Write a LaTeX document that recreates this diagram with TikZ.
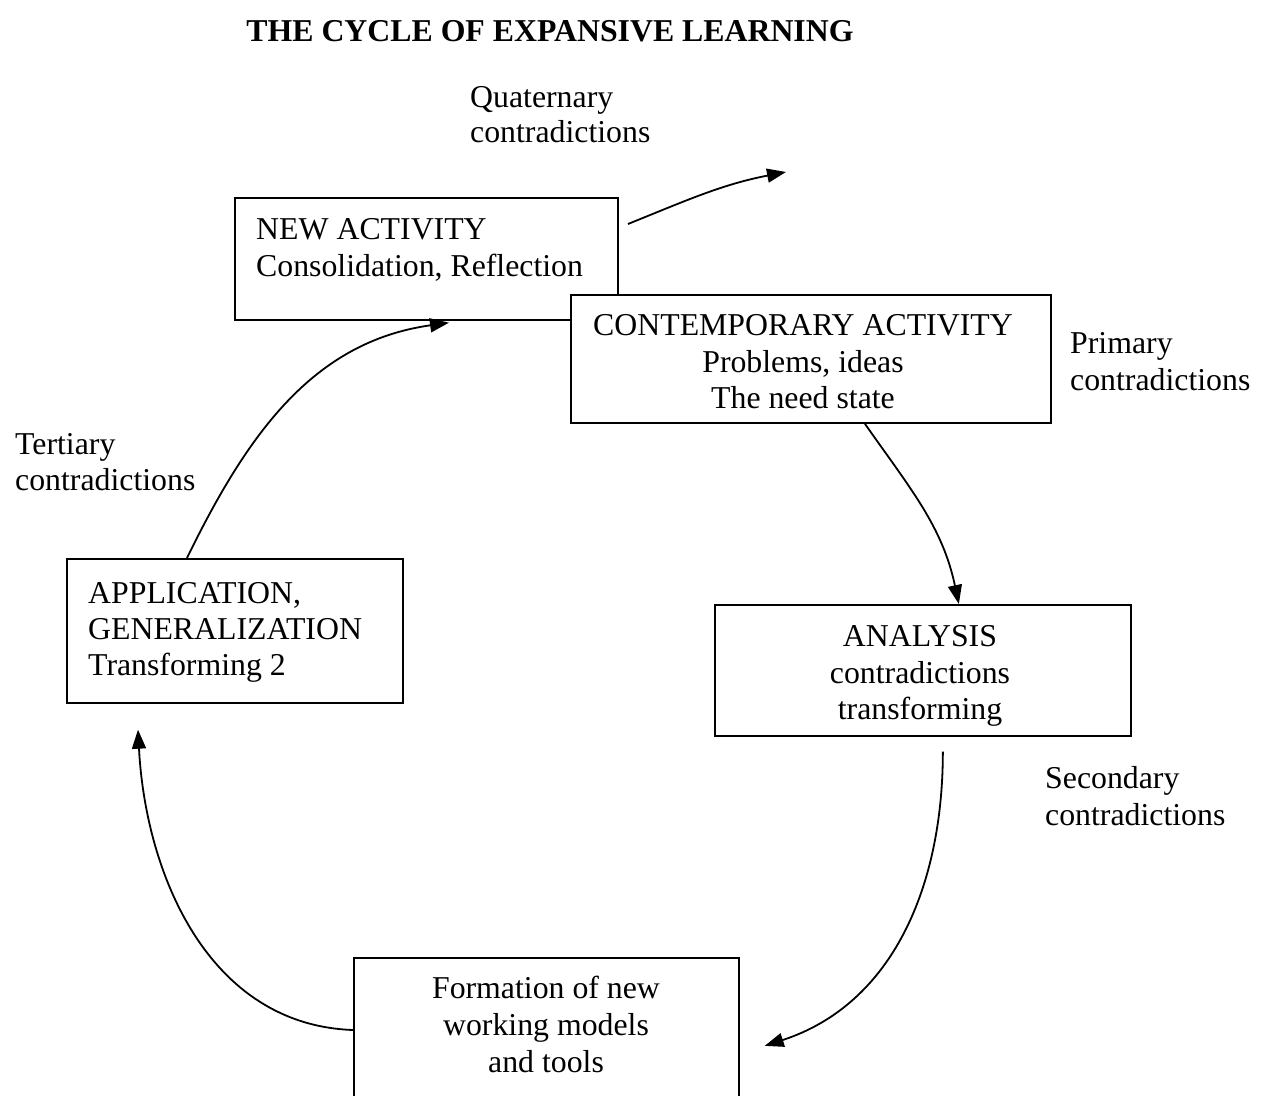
\documentclass[tikz,border=0pt]{standalone}
\usepackage{fontspec}
\setmainfont{Liberation Serif}
\usetikzlibrary{arrows.meta,calc}
\begin{document}
\begin{tikzpicture}[x=1pt,y=1pt,
  box/.style={draw=black,line width=1.7pt,fill=white,rectangle,inner sep=0pt,anchor=north west},
  txt/.style={inner sep=0pt,font=\fontsize{31.8}{36.5}\selectfont},
  ttl/.style={inner sep=0pt,font=\fontsize{31.8}{36.5}\selectfont\bfseries},
  conn/.style={line width=1.8pt,-{Triangle[length=19pt,width=14pt]}}]
\useasboundingbox (0,0) rectangle (1263,1095);
% boxes
\node[box,minimum width=383pt,minimum height=122pt] (na) at (234,898) {};
\node[box,minimum width=480pt,minimum height=128pt] (ca) at (570,801) {};
\node[box,minimum width=336pt,minimum height=144pt] (ap) at (66,537) {};
\node[box,minimum width=416pt,minimum height=131pt] (an) at (714,491) {};
\node[box,minimum width=385pt,minimum height=170pt] (fm) at (353,138) {};
% title
\node[ttl,anchor=base] (title) at (550,1053) {THE CYCLE OF EXPANSIVE LEARNING};
% free labels
\node[txt,anchor=base west] (q1) at (470,987) {Quaternary};
\node[txt,anchor=base west] (q2) at (470,952) {contradictions};
\node[txt,anchor=base west] (p1) at (1070,741) {Primary};
\node[txt,anchor=base west] (p2) at (1070,704) {contradictions};
\node[txt,anchor=base west] (t1) at (15,640) {Tertiary};
\node[txt,anchor=base west] (t2) at (15,604) {contradictions};
\node[txt,anchor=base west] (s1) at (1045,306) {Secondary};
\node[txt,anchor=base west] (s2) at (1045,269) {contradictions};
% box texts
\node[txt,anchor=base west] (na1) at (256,855) {NEW ACTIVITY};
\node[txt,anchor=base west] (na2) at (256,818) {Consolidation, Reflection};
\node[txt,anchor=base] (ca1) at (803,759) {CONTEMPORARY ACTIVITY};
\node[txt,anchor=base] (ca2) at (803,722) {Problems, ideas};
\node[txt,anchor=base] (ca3) at (803,686) {The need state};
\node[txt,anchor=base west] (ap1) at (88,491) {APPLICATION,};
\node[txt,anchor=base west] (ap2) at (88,455) {GENERALIZATION};
\node[txt,anchor=base west] (ap3) at (88,419) {Transforming 2};
\node[txt,anchor=base] (an1) at (920,448) {ANALYSIS};
\node[txt,anchor=base] (an2) at (920,411) {contradictions};
\node[txt,anchor=base] (an3) at (920,375) {transforming};
\node[txt,anchor=base] (fm1) at (546,97) {Formation of new};
\node[txt,anchor=base] (fm2) at (546,60) {working models};
\node[txt,anchor=base] (fm3) at (546,23) {and tools};
% connector ends
\coordinate (qs) at (628,871);
\coordinate (qe) at (786,923);
% connectors
\draw[conn] (qs) to[out=22,in=191] (qe);
\draw[conn] ($(ca.south)+(54,0)$) to[out=-55,in=102] ($(an.north)+(36,0)$);
\draw[conn] ($(an.south)+(20,-15)$) to[out=-90,in=18] ($(fm.east)+(25,-3)$);
\draw[conn] ($(fm.north west)+(0,-73)$) to[out=178,in=-87] ($(ap.south west)+(72,-26)$);
\draw[conn] ($(ap.north west)+(121,0)$) to[out=64,in=188] ($(na.south west)+(215,-2)$);
\end{tikzpicture}
\end{document}
